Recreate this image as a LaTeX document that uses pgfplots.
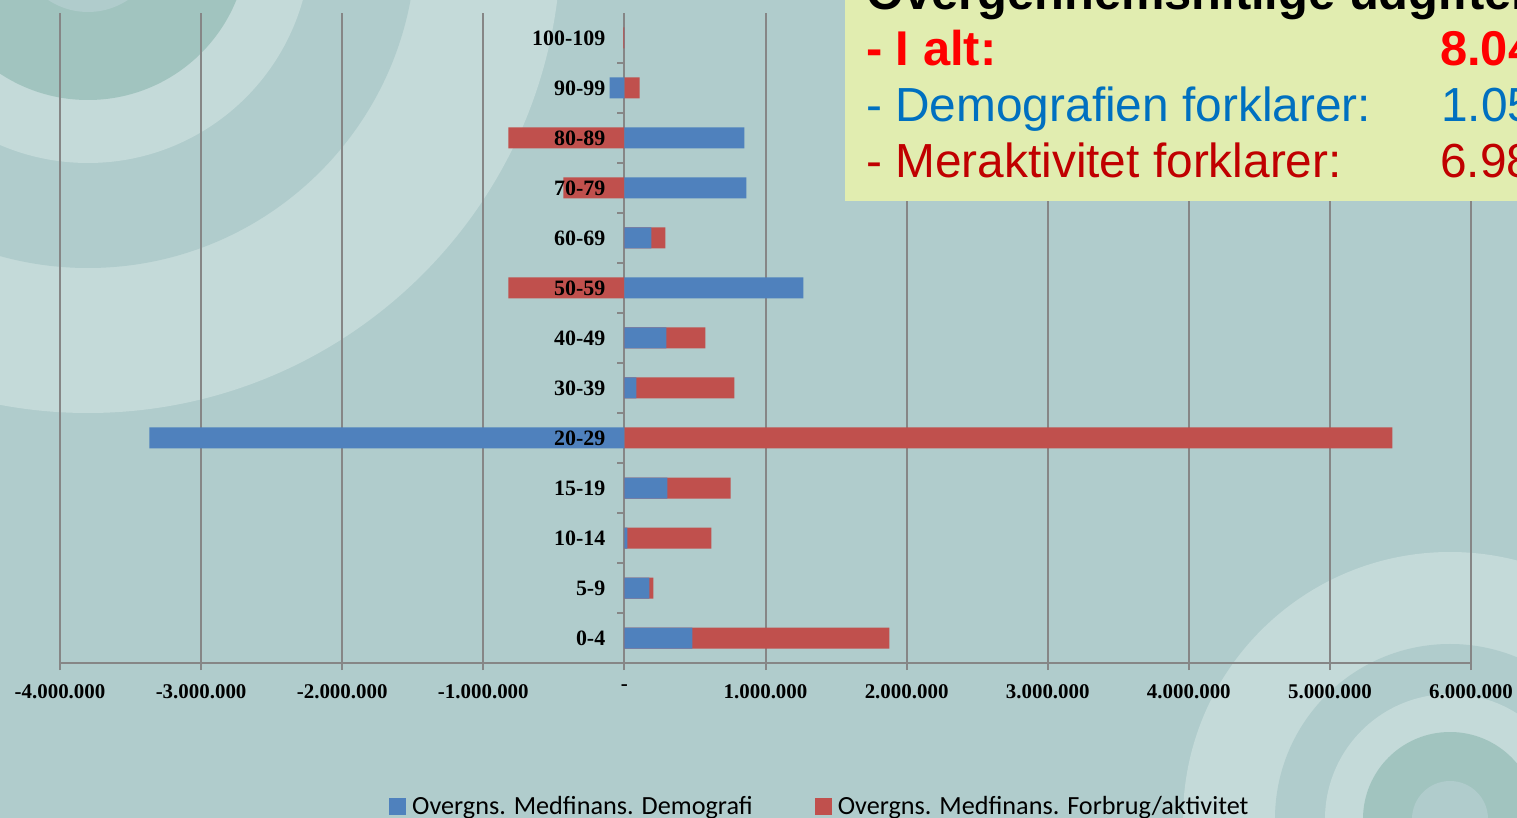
\documentclass[border=0pt]{standalone}
\usepackage{fontspec}
\setmainfont{Liberation Serif}
\newfontfamily\arialf{Liberation Sans}
\newfontfamily\calib{Carlito}
\usepackage{pgfplots}
\pgfplotsset{compat=1.18}
\usepackage{pgfplotstable}

\definecolor{bgc}{RGB}{176,204,204}
\definecolor{lightc}{RGB}{196,218,217}
\definecolor{darkc}{RGB}{161,196,191}
\definecolor{gridc}{RGB}{134,134,134}
\definecolor{bblue}{RGB}{79,129,189}
\definecolor{bred}{RGB}{192,80,77}
\definecolor{boxc}{RGB}{225,237,176}
\definecolor{tred}{RGB}{255,0,0}
\definecolor{tblue}{RGB}{0,112,192}
\definecolor{tdred}{RGB}{192,0,0}

\pgfplotstableread{
y demo akt
0 482000 1396000
1 177000 28000
2 21000 595000
3 305000 447000
4 -3366000 5443000
5 85000 695000
6 298000 276000
7 1269000 -822000
8 191000 99000
9 865000 -432000
10 851000 -822000
11 -104000 108000
12 0 -8000
}\data

\begin{document}
\begin{tikzpicture}
\useasboundingbox (-60bp,-155bp) rectangle (1457bp,663bp);
\begin{scope}
\clip (-60bp,-155bp) rectangle (1457bp,663bp);
\fill[bgc] (-60bp,-155bp) rectangle (1457bp,663bp);
\fill[lightc] (28bp,723bp) circle (473bp);
\fill[bgc] (28bp,723bp) circle (328bp);
\fill[lightc] (28bp,723bp) circle (223bp);
\fill[darkc] (28bp,723bp) circle (160bp);
\fill[bgc] (28bp,723bp) circle (72bp);
\fill[lightc] (1390bp,-156bp) circle (267bp);
\fill[bgc] (1390bp,-156bp) circle (175bp);
\fill[lightc] (1390bp,-156bp) circle (125bp);
\fill[darkc] (1390bp,-156bp) circle (87bp);
\fill[bgc] (1390bp,-156bp) circle (38bp);
\end{scope}

\begin{axis}[
  at={(0,0)}, anchor=south west, scale only axis,
  width=1411bp, height=650bp,
  xmin=-4000000, xmax=6000000, ymin=-0.5, ymax=12.5,
  axis y line=none, axis x line*=bottom,
  x axis line style={gridc, line width=2.5bp, -},
  xtick={-4000000,-3000000,-2000000,-1000000,0,1000000,2000000,3000000,4000000,5000000,6000000},
  xticklabels={-4.000.000,-3.000.000,-2.000.000,-1.000.000,-,1.000.000,2.000.000,3.000.000,4.000.000,5.000.000,6.000.000},
  scaled x ticks=false,
  xtick align=outside, major tick length=7bp,
  xtick style={gridc, line width=2bp},
  xmajorgrids, grid style={gridc, line width=2bp},
  xticklabel style={font=\bfseries\fontsize{21}{21}\selectfont, text=black, yshift=-11bp},
  ytick=\empty,
  xbar, bar width=21bp, bar shift=0pt,
  legend image code/.code={\fill[#1] (0bp,-8.5bp) rectangle (17bp,8.5bp);},
  reverse legend,
  legend style={at={(0.5385,-0.22)}, anchor=center, draw=none, fill=none,
    legend columns=2, font=\calib\fontsize{26.3}{26.3}\selectfont,
    /tikz/every odd column/.append style={column sep=4bp},
    /tikz/every even column/.append style={column sep=60bp}},
  legend cell align=left,
]
\addplot[fill=bred, draw=none] table[y=y, x expr={\thisrow{akt}+\thisrow{demo}*(\thisrow{demo}>0)*(\thisrow{akt}>0)}]{\data};
\addlegendentry{Overgns. Medfinans. Forbrug/aktivitet}
\addplot[fill=bblue, draw=none] table[y=y, x=demo]{\data};
\addlegendentry{Overgns. Medfinans. Demografi}
\pgfplotsinvokeforeach{0.5,1.5,2.5,3.5,4.5,5.5,6.5,7.5,8.5,9.5,10.5,11.5}{
  \draw[gridc, line width=2bp] (axis cs:0,#1) -- ([xshift=-7bp]axis cs:0,#1);
}
\foreach \lab [count=\i from 0] in {0-4,5-9,10-14,15-19,20-29,30-39,40-49,50-59,60-69,70-79,80-89,90-99,100-109}{
  \edef\tmp{\noexpand\node[anchor=east, inner sep=0pt, xshift=-19bp, font=\noexpand\bfseries\noexpand\fontsize{22}{22}\noexpand\selectfont] at (axis cs:0,\i) {\lab};}\tmp
}
\end{axis}

\begin{scope}
\clip (-60bp,-155bp) rectangle (1457bp,663bp);
\fill[boxc] (785bp,462bp) rectangle (1500bp,720bp);
\begin{scope}[every node/.style={anchor=base west, inner sep=0pt}]
\node[font=\arialf\bfseries\fontsize{49}{49}\selectfont, text=black] at (806bp,653bp) {Overgennemsnitlige udgifter};
\node[font=\arialf\bfseries\fontsize{49}{49}\selectfont, text=tred] at (806bp,597bp) {- I alt:};
\node[font=\arialf\bfseries\fontsize{49}{49}\selectfont, text=tred] at (1380bp,597bp) {8.040.000};
\node[font=\arialf\fontsize{48}{48}\selectfont, text=tblue] at (806bp,541bp) {- Demografien forklarer:};
\node[font=\arialf\fontsize{48}{48}\selectfont, text=tblue] at (1381bp,541bp) {1.050.000};
\node[font=\arialf\fontsize{48}{48}\selectfont, text=tdred] at (806bp,485bp) {- Meraktivitet forklarer:};
\node[font=\arialf\fontsize{48}{48}\selectfont, text=tdred] at (1380bp,485bp) {6.980.000};
\end{scope}
\end{scope}
\end{tikzpicture}
\end{document}
